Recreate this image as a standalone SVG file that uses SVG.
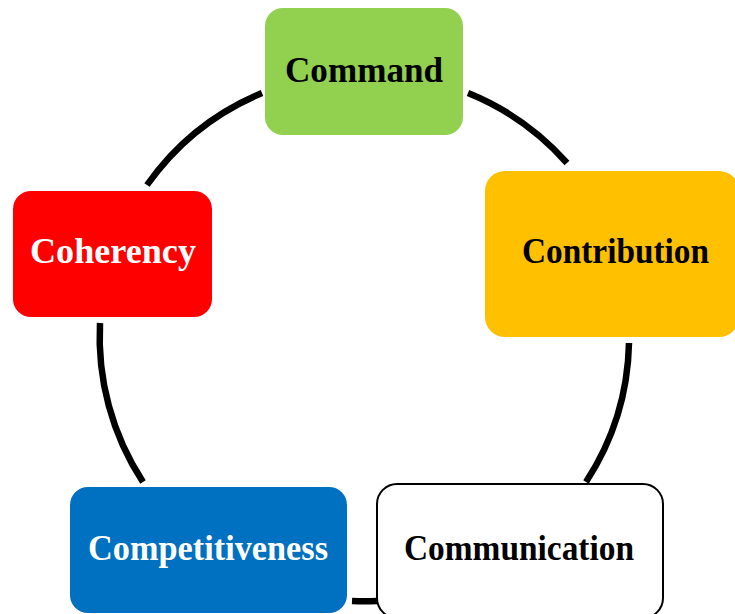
<svg xmlns="http://www.w3.org/2000/svg" width="735" height="614" viewBox="0 0 735 614">
  <style>
    .ring { fill: none; stroke: #000; stroke-width: 6.5; stroke-linecap: butt; }
    .label { font-family: "Liberation Serif", "Times New Roman", serif; font-weight: bold; font-size: 36px; text-anchor: middle; }
    .dark { fill: #000; }
    .light { fill: #fff; }
  </style>
  <rect width="735" height="614" fill="#fff"/>

  <!-- ring segments joining the nodes (circle centre 364,337, r 265) -->
  <g id="connectors">
    <path class="ring" d="M 147 185 A 265 265 0 0 1 262 93"/>
    <path class="ring" d="M 468 93 A 265 265 0 0 1 567 163"/>
    <path class="ring" d="M 629 343 A 265 265 0 0 1 586 482"/>
    <path class="ring" d="M 377 601 A 265 265 0 0 1 352 601"/>
    <path class="ring" d="M 143 482 A 265 265 0 0 1 100 323"/>
  </g>

  <g id="command">
    <rect x="265" y="8" width="198" height="127" rx="18" fill="#92D050"/>
    <text class="label dark" x="364" y="82" textLength="158" lengthAdjust="spacingAndGlyphs">Command</text>
  </g>

  <g id="contribution">
    <rect x="485" y="171" width="254" height="166" rx="20" fill="#FFC000"/>
    <text class="label dark" x="615.5" y="263" textLength="187" lengthAdjust="spacingAndGlyphs">Contribution</text>
  </g>

  <g id="communication">
    <rect x="377" y="484" width="286" height="134" rx="20" fill="#fff" stroke="#000" stroke-width="2"/>
    <text class="label dark" x="519" y="560" textLength="230" lengthAdjust="spacingAndGlyphs">Communication</text>
  </g>

  <g id="competitiveness">
    <rect x="70" y="487" width="277" height="126" rx="18" fill="#0070C0"/>
    <text class="label light" x="208" y="560" textLength="240" lengthAdjust="spacingAndGlyphs">Competitiveness</text>
  </g>

  <g id="coherency">
    <rect x="13" y="191" width="199" height="126" rx="18" fill="#FF0000"/>
    <text class="label light" x="113" y="263" textLength="166" lengthAdjust="spacingAndGlyphs">Coherency</text>
  </g>
</svg>
